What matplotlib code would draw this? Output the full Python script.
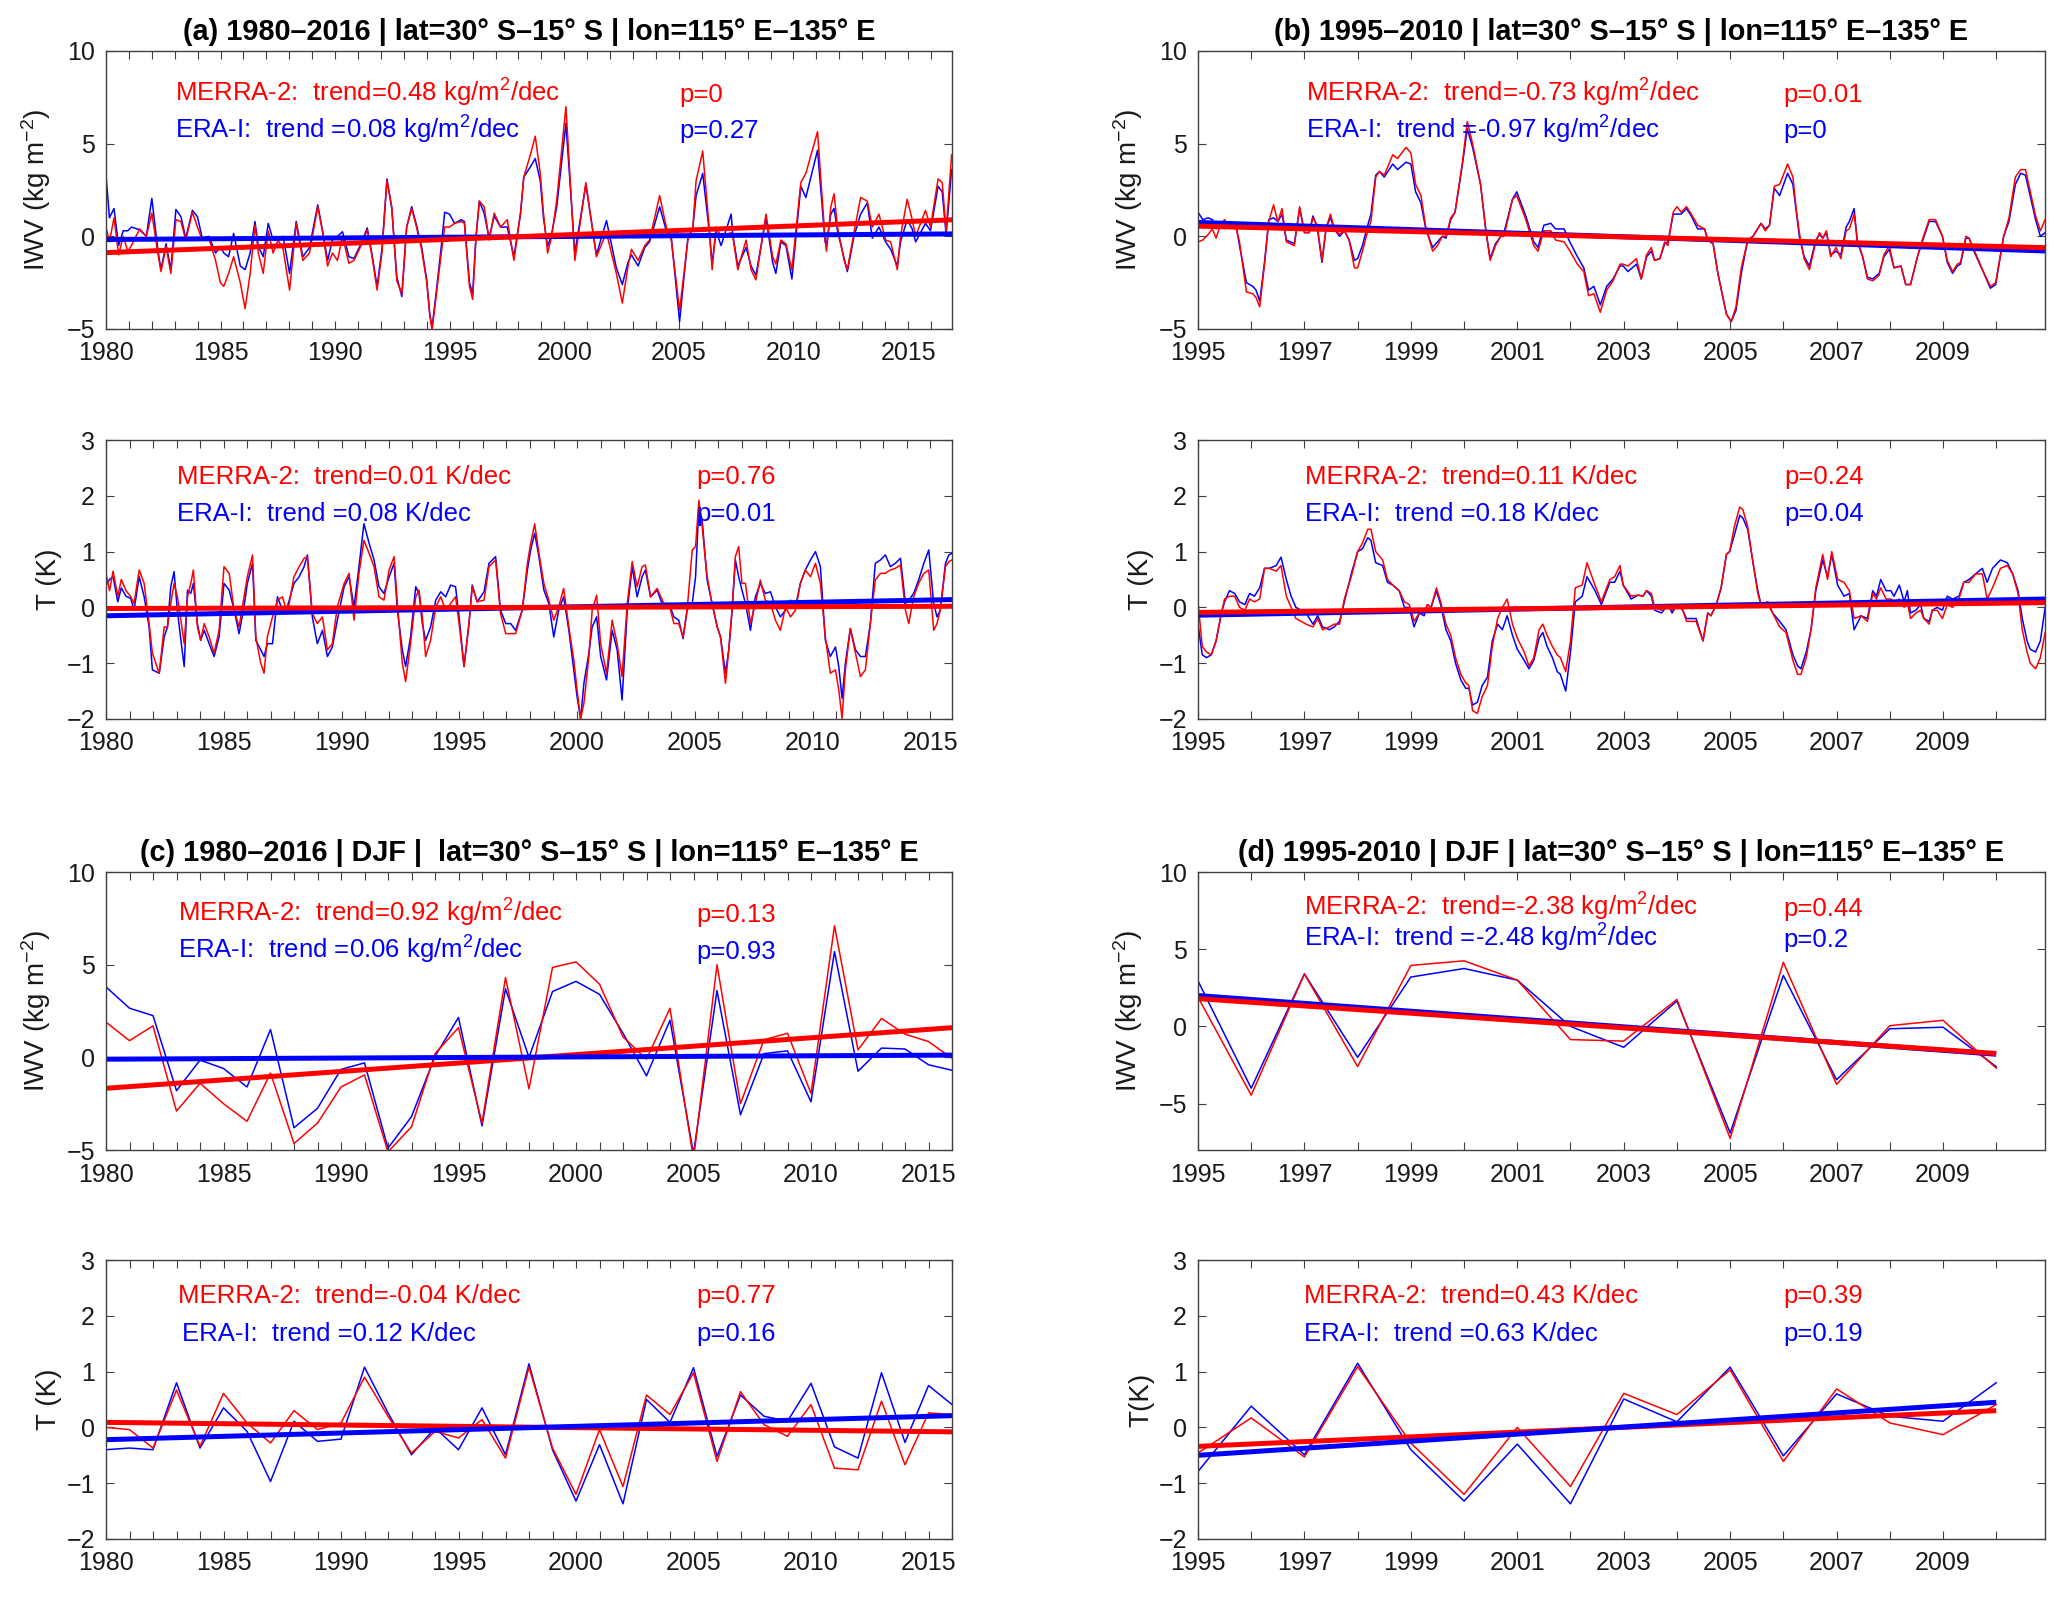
import numpy as np
import matplotlib
matplotlib.use('Agg')
import matplotlib.pyplot as plt

plt.rcParams['font.family'] = ['Liberation Sans', 'DejaVu Sans']
plt.rcParams['mathtext.fontset'] = 'custom'
plt.rcParams['mathtext.rm'] = 'Liberation Sans'
plt.rcParams['mathtext.it'] = 'Liberation Sans:italic'
plt.rcParams['mathtext.bf'] = 'Liberation Sans:bold'

# ---------------- (a) monthly 1980-2016 ----------------
t_a_iwv = [1980.00, 1980.15, 1980.35, 1980.55, 1980.75, 1980.95, 1981.11, 1981.47, 1981.76, 1982.00,
           1982.26, 1982.40, 1982.62, 1982.83, 1983.05, 1983.27, 1983.48, 1983.77, 1983.99, 1984.20,
           1984.49, 1984.78, 1984.99, 1985.14, 1985.35, 1985.57, 1985.86, 1986.07, 1986.29, 1986.50,
           1986.65, 1986.86, 1987.08, 1987.29, 1987.51, 1987.73, 1988.01, 1988.30, 1988.59, 1988.88,
           1989.24, 1989.45, 1989.67, 1989.88, 1990.10, 1990.32, 1990.60, 1990.82, 1991.11, 1991.40,
           1991.61, 1991.83, 1992.04, 1992.26, 1992.47, 1992.69, 1992.91, 1993.12, 1993.34, 1993.55,
           1993.77, 1993.99, 1994.13, 1994.23, 1994.42, 1994.63, 1994.78, 1994.99, 1995.21, 1995.50,
           1995.64, 1995.86, 1996.00, 1996.14, 1996.29, 1996.50, 1996.72, 1996.94, 1997.22, 1997.51,
           1997.80, 1998.09, 1998.23, 1998.52, 1998.73, 1998.95, 1999.09, 1999.27, 1999.45, 1999.67,
           2000.07, 2000.46, 2000.94, 2001.40, 2001.84, 2002.27, 2002.53, 2002.78, 2002.93, 2003.22,
           2003.51, 2003.72, 2004.16, 2004.45, 2004.67, 2005.03, 2005.39, 2005.61, 2005.75, 2006.04,
           2006.33, 2006.45, 2006.62, 2006.84, 2007.28, 2007.35, 2007.57, 2007.93, 2008.15, 2008.36,
           2008.80, 2009.09, 2009.23, 2009.45, 2009.67, 2009.93, 2010.32, 2010.54, 2011.05, 2011.38,
           2011.44, 2011.63, 2011.77, 2011.92, 2012.21, 2012.35, 2012.64, 2012.93, 2013.22, 2013.44,
           2013.73, 2014.02, 2014.24, 2014.53, 2014.67, 2014.96, 2015.18, 2015.33, 2015.76, 2015.98,
           2016.31, 2016.49, 2016.66, 2016.90]
iwv_a_merra = [0.5, -0.3, 1.0, -1.0, 0.0, -0.8, -0.5, 0.4, 0.0, 1.25,
               -0.9, -1.9, -0.55, -2.0, 0.9, 0.8, -0.2, 1.3, 0.5, -0.2,
               -0.1, -1.3, -2.5, -2.7, -2.0, -1.1, -2.5, -3.9, -2.0, 0.6,
               -0.9, -2.0, 0.3, -0.9, -0.2, -0.7, -2.9, 0.7, -1.3, -0.9,
               1.6, 0.25, -1.6, -0.9, -1.3, 0.0, -1.45, -1.3, -0.55, 0.35,
               -1.1, -2.9, -0.9, 3.0, 1.6, -2.4, -3.1, 0.5, 1.5, 0.5,
               -0.7, -2.4, -4.3, -5.05, -3.1, -0.9, 0.5, 0.5, 0.7, 0.8,
               0.7, -2.7, -3.4, -0.2, 1.9, 1.6, -0.2, 1.25, 0.5, 0.9,
               -1.3, 1.25, 3.2, 4.4, 5.4, 3.4, 1.25, -0.9, 0.0, 1.96,
               7.0, -1.3, 2.9, -1.1, 0.2, -2.0, -3.6, -1.6, -0.7, -1.3,
               -0.5, -0.2, 2.2, 0.5, -0.2, -4.0, -0.2, 0.5, 3.0, 4.6,
               0.3, -1.8, 0.5, 0.0, 0.2, 0.0, -1.8, -0.2, -1.8, -2.35,
               1.2, -1.1, -1.5, -0.2, -0.4, -1.8, 2.9, 3.4, 5.65, -0.2,
               -0.8, 1.6, 2.3, 0.5, -1.3, -1.8, 0.2, 2.1, 1.9, 0.5,
               1.2, -0.2, -0.3, -1.8, 0.0, 2.0, 0.9, 0.0, 1.4, 0.5,
               3.1, 2.9, 0.3, 4.4]
iwv_a_era = [3.3, 1.0, 1.5, -0.5, 0.3, 0.3, 0.5, 0.35, 0.0, 2.05,
             -0.7, -1.8, -0.4, -1.8, 1.45, 1.06, -0.1, 1.4, 1.06, -0.1,
             0.0, -0.9, -0.55, -0.9, -1.1, 0.16, -1.6, -1.8, -0.9, 0.8,
             -0.55, -1.1, 0.7, -0.2, -0.2, 0.0, -2.0, 0.8, -1.1, -0.6,
             1.7, 0.3, -1.3, -0.2, 0.0, 0.25, -1.1, -1.2, -0.45, 0.45,
             -1.0, -2.7, -0.7, 3.1, 1.5, -2.2, -3.25, 0.5, 1.6, 0.6,
             -0.55, -2.3, -4.2, -4.9, -2.9, -0.55, 1.3, 1.2, 0.7, 0.9,
             0.8, -2.5, -3.1, -0.1, 1.9, 1.25, -0.1, 1.1, 0.5, 0.5,
             -1.1, 1.25, 3.2, 3.75, 4.2, 3.0, 1.0, -0.55, 0.15, 1.6,
             6.1, -0.9, 2.8, -1.0, 0.85, -1.7, -2.6, -1.4, -1.0, -1.6,
             -0.6, -0.3, 1.6, 0.3, -0.1, -4.6, -0.1, 0.5, 2.2, 3.4,
             0.2, -1.5, 0.3, -0.5, 1.2, 0.1, -1.6, -0.6, -1.6, -2.1,
             1.0, -1.4, -2.0, -0.3, -0.5, -2.3, 2.7, 2.1, 4.65, -0.3,
             -0.4, 1.2, 1.5, 0.3, -1.2, -1.9, 0.0, 1.2, 1.8, -0.1,
             0.5, -0.3, -0.7, -1.6, -0.3, 0.9, 0.4, -0.3, 0.7, 0.3,
             2.7, 2.4, 0.1, 3.6]

t_a_t = [1980.00, 1980.15, 1980.30, 1980.50, 1980.65, 1980.85, 1981.05, 1981.19, 1981.41, 1981.62,
         1981.83, 1981.97, 1982.26, 1982.47, 1982.61, 1982.75, 1982.89, 1983.03, 1983.18, 1983.32,
         1983.46, 1983.60, 1983.71, 1983.88, 1984.02, 1984.17, 1984.38, 1984.59, 1984.80, 1985.01,
         1985.23, 1985.44, 1985.65, 1985.86, 1986.00, 1986.22, 1986.36, 1986.57, 1986.71, 1986.85,
         1987.07, 1987.28, 1987.49, 1987.70, 1987.98, 1988.20, 1988.41, 1988.55, 1988.76, 1988.97,
         1989.19, 1989.40, 1989.61, 1989.82, 1990.11, 1990.32, 1990.53, 1990.74, 1990.95, 1991.17,
         1991.38, 1991.59, 1991.80, 1992.02, 1992.23, 1992.37, 1992.58, 1992.72, 1992.93, 1993.15,
         1993.29, 1993.43, 1993.57, 1993.78, 1994.00, 1994.21, 1994.42, 1994.63, 1994.84, 1994.99,
         1995.20, 1995.41, 1995.55, 1995.76, 1996.05, 1996.26, 1996.40, 1996.54, 1996.75, 1996.97,
         1997.18, 1997.39, 1997.67, 1997.89, 1998.03, 1998.20, 1998.38, 1998.59, 1998.80, 1999.01,
         1999.22, 1999.43, 1999.65, 1999.86, 2000.00, 2000.15, 2000.29, 2000.50, 2000.64, 2000.83,
         2001.00, 2001.25, 2001.49, 2001.70, 2001.91, 2002.13, 2002.34, 2002.55, 2002.76, 2002.90,
         2003.12, 2003.40, 2003.68, 2003.90, 2004.11, 2004.32, 2004.50, 2004.67, 2004.89, 2005.03,
         2005.17, 2005.31, 2005.52, 2005.73, 2005.95, 2006.09, 2006.30, 2006.44, 2006.58, 2006.72,
         2006.86, 2007.00, 2007.15, 2007.36, 2007.57, 2007.78, 2007.99, 2008.21, 2008.42, 2008.63,
         2008.85, 2009.06, 2009.27, 2009.48, 2009.69, 2009.91, 2010.12, 2010.33, 2010.54, 2010.75,
         2010.97, 2011.11, 2011.25, 2011.39, 2011.60, 2011.82, 2012.03, 2012.24, 2012.45, 2012.66,
         2012.88, 2013.09, 2013.30, 2013.51, 2013.73, 2013.94, 2014.08, 2014.29, 2014.50, 2014.72,
         2014.93, 2015.14, 2015.28, 2015.42, 2015.64, 2015.78, 2015.92]
t_a_merra = [0.6, 0.3, 0.65, 0.2, 0.5, 0.3, 0.19, 0.07, 0.67, 0.43,
             -0.29, -0.82, -1.18, -0.35, -0.35, 0.07, 0.43, 0.19, -0.23, -0.65,
             0.19, 0.43, 0.67, -0.35, -0.59, -0.29, -0.53, -0.82, -0.41, 0.73,
             0.61, -0.05, -0.35, 0.19, 0.55, 0.94, -0.53, -1.0, -1.18, -0.53,
             -0.17, 0.13, 0.19, -0.11, 0.55, 0.73, 0.88, 0.91, -0.11, -0.29,
             -0.17, -0.76, -0.65, 0.01, 0.43, 0.61, -0.23, 0.61, 1.2, 0.97,
             0.73, 0.19, 0.13, 0.67, 0.91, 0.07, -1.0, -1.33, -0.65, 0.19,
             0.31, -0.17, -0.88, -0.59, 0.01, 0.19, -0.05, 0.07, 0.19, -0.29,
             -1.06, -0.29, 0.37, 0.1, 0.13, 0.73, 0.79, 0.85, -0.11, -0.47,
             -0.47, -0.47, -0.05, 0.79, 1.15, 1.5, 0.97, 0.43, 0.13, -0.23,
             0.01, 0.34, -0.35, -0.94, -1.48, -2.0, -1.72, -0.88, -0.05, 0.22,
             -0.65, -1.18, -0.23, -0.65, -1.24, 0.07, 0.82, 0.37, 0.73, 0.76,
             0.19, 0.34, 0.07, 0.07, -0.29, -0.29, -0.53, -0.05, 1.03, 1.09,
             1.92, 1.45, 0.55, 0.07, -0.35, -0.53, -1.36, -0.76, -0.05, 0.91,
             1.09, 0.43, 0.43, -0.29, 0.07, 0.49, 0.13, 0.07, -0.23, -0.41,
             0.01, -0.17, -0.05, 0.43, 0.67, 0.55, 0.79, 0.43, -0.53, -1.18,
             -1.12, -1.48, -1.99, -1.12, -0.38, -0.82, -1.24, -1.12, -0.29, 0.49,
             0.61, 0.61, 0.67, 0.7, 0.76, -0.05, -0.29, 0.19, 0.43, 0.61,
             0.67, -0.41, -0.29, -0.05, 0.73, 0.82, 0.85]
t_a_era = [0.4, 0.5, 0.55, 0.1, 0.35, 0.2, 0.16, -0.05, 0.55, 0.19,
           -0.35, -1.12, -1.18, -0.53, -0.35, 0.37, 0.64, -0.05, -0.59, -1.06,
           0.31, 0.25, 0.43, -0.29, -0.59, -0.41, -0.65, -0.88, -0.53, 0.43,
           0.31, -0.05, -0.47, 0.01, 0.43, 0.79, -0.59, -0.76, -0.88, -0.65,
           -0.65, 0.19, -0.05, 0.01, 0.43, 0.55, 0.73, 0.94, -0.17, -0.65,
           -0.41, -0.88, -0.71, -0.23, 0.37, 0.55, 0.01, 0.73, 1.5, 1.15,
           0.85, 0.37, 0.25, 0.55, 0.79, -0.05, -0.76, -1.06, -0.53, 0.37,
           0.25, -0.29, -0.59, -0.35, 0.13, 0.28, 0.19, 0.4, 0.37, -0.17,
           -1.06, -0.29, 0.4, 0.1, 0.28, 0.79, 0.85, 0.91, -0.05, -0.29,
           -0.29, -0.41, -0.05, 0.67, 1.03, 1.33, 0.91, 0.31, 0.07, -0.53,
           -0.05, 0.19, -0.41, -1.12, -1.6, -2.0, -1.36, -0.82, -0.35, -0.17,
           -0.88, -1.3, -0.41, -0.76, -1.66, -0.05, 0.73, 0.19, 0.55, 0.67,
           0.19, 0.31, -0.02, 0.07, -0.17, -0.23, -0.56, -0.05, 0.07, 0.55,
           1.8, 1.57, 0.49, 0.07, -0.35, -0.53, -1.18, -0.76, -0.05, 0.85,
           0.55, 0.31, 0.07, -0.41, 0.19, 0.43, 0.25, 0.28, 0.01, -0.17,
           -0.05, 0.13, 0.01, 0.43, 0.67, 0.85, 1.0, 0.73, -0.59, -0.88,
           -0.71, -1.06, -1.63, -1.0, -0.38, -0.76, -0.88, -0.88, -0.29, 0.79,
           0.85, 0.94, 0.73, 0.79, 0.88, 0.07, 0.13, 0.25, 0.49, 0.79,
           1.03, 0.07, -0.17, -0.05, 0.79, 0.94, 0.97]

# ---------------- (b) monthly 1995-2010 ----------------
t_b_iwv = [1995.00, 1995.09, 1995.19, 1995.27, 1995.34, 1995.42, 1995.50, 1995.59, 1995.72, 1995.78,
           1995.91, 1996.03, 1996.09, 1996.16, 1996.25, 1996.33, 1996.42, 1996.50, 1996.58, 1996.66,
           1996.81, 1996.91, 1997.00, 1997.09, 1997.16, 1997.24, 1997.33, 1997.41, 1997.49, 1997.56,
           1997.66, 1997.75, 1997.84, 1997.94, 1998.00, 1998.09, 1998.19, 1998.25, 1998.34, 1998.41,
           1998.50, 1998.66, 1998.75, 1998.91, 1999.00, 1999.09, 1999.19, 1999.28, 1999.41, 1999.50,
           1999.59, 1999.66, 1999.75, 1999.83, 1999.97, 2000.06, 2000.16, 2000.31, 2000.41, 2000.49,
           2000.59, 2000.69, 2000.75, 2000.91, 2000.99, 2001.16, 2001.31, 2001.39, 2001.50, 2001.63,
           2001.72, 2001.88, 2001.97, 2002.13, 2002.25, 2002.34, 2002.44, 2002.56, 2002.68, 2002.80,
           2002.93, 2002.99, 2003.08, 2003.24, 2003.33, 2003.43, 2003.52, 2003.58, 2003.68, 2003.77,
           2003.83, 2003.93, 2004.00, 2004.08, 2004.18, 2004.27, 2004.39, 2004.52, 2004.58, 2004.68,
           2004.77, 2004.93, 2005.02, 2005.11, 2005.21, 2005.33, 2005.43, 2005.58, 2005.66, 2005.74,
           2005.83, 2005.93, 2006.08, 2006.18, 2006.24, 2006.30, 2006.39, 2006.49, 2006.61, 2006.68,
           2006.74, 2006.81, 2006.89, 2006.99, 2007.08, 2007.18, 2007.24, 2007.33, 2007.39, 2007.49,
           2007.58, 2007.68, 2007.80, 2007.89, 2007.99, 2008.08, 2008.21, 2008.30, 2008.39, 2008.52,
           2008.61, 2008.74, 2008.86, 2008.99, 2009.08, 2009.18, 2009.27, 2009.33, 2009.43, 2009.49,
           2009.58, 2009.74, 2009.89, 2009.99, 2010.14, 2010.24, 2010.36, 2010.46, 2010.55, 2010.74,
           2010.83, 2010.92]
iwv_b_merra = [-0.3, -0.2, 0.1, 0.4, -0.1, 0.6, 0.9, 0.5, 0.4, -0.3,
               -3.0, -3.1, -3.3, -3.8, -1.5, 0.8, 1.7, 0.8, 1.5, -0.3,
               -0.5, 1.6, 0.2, 0.2, 1.0, 0.6, -1.3, 0.5, 1.2, 0.4,
               0.1, 0.3, -0.2, -1.7, -1.7, -0.8, 0.3, 0.8, 3.2, 3.5,
               3.3, 4.4, 4.2, 4.8, 4.5, 2.8, 2.2, 0.5, -0.8, -0.5,
               0.0, 0.0, 1.0, 1.3, 4.0, 6.2, 5.0, 2.8, 0.3, -1.3,
               -0.5, 0.0, 0.0, 2.0, 2.2, 0.9, -0.5, -0.8, 0.3, 0.3,
               -0.2, -0.3, -0.7, -1.5, -1.9, -3.2, -3.1, -4.1, -2.9, -2.4,
               -1.5, -1.5, -1.6, -1.2, -2.3, -1.0, -0.6, -1.3, -1.2, -0.3,
               -0.5, 1.3, 1.6, 1.3, 1.6, 1.2, 0.6, 0.4, -0.2, -0.4,
               -2.0, -4.2, -4.6, -3.8, -1.7, -0.2, 0.0, 0.7, 0.3, 0.6,
               2.7, 2.8, 3.9, 3.2, 1.5, 0.2, -1.2, -1.8, -0.3, 0.2,
               -0.1, 0.3, -1.1, -0.6, -1.2, 0.3, 0.4, 1.2, -0.2, -1.1,
               -2.3, -2.4, -2.1, -1.0, -0.5, -1.7, -1.6, -2.6, -2.6, -1.1,
               -0.2, 0.9, 0.9, 0.0, -1.3, -1.9, -1.5, -1.4, 0.0, -0.1,
               -0.7, -1.8, -2.7, -2.5, 0.0, 1.0, 3.2, 3.6, 3.6, 1.1,
               0.3, 0.9]
iwv_b_era = [1.3, 0.9, 1.0, 0.9, 0.4, 0.7, 0.85, 0.6, 0.5, -0.5,
             -2.5, -2.7, -2.9, -3.5, -1.4, 0.9, 1.0, 0.8, 1.2, -0.2,
             -0.4, 1.5, 0.2, 0.2, 1.1, 0.5, -1.4, 0.5, 1.0, 0.4,
             0.0, 0.3, -0.2, -1.3, -1.2, -0.5, 0.6, 1.2, 3.3, 3.5,
             3.2, 3.9, 3.6, 4.0, 3.9, 2.4, 1.8, 0.4, -0.6, -0.3,
             0.0, -0.1, 0.9, 1.3, 3.9, 5.8, 4.8, 2.8, 0.3, -1.2,
             -0.4, 0.0, 0.2, 2.0, 2.4, 1.1, -0.3, -0.6, 0.6, 0.7,
             0.4, 0.4, -0.2, -1.1, -1.7, -2.9, -2.7, -3.7, -2.7, -2.3,
             -1.6, -1.6, -1.9, -1.5, -2.3, -1.1, -0.8, -1.3, -1.2, -0.4,
             -0.3, 1.2, 1.2, 1.2, 1.5, 1.1, 0.4, 0.4, -0.2, -0.4,
             -2.0, -4.2, -4.6, -4.0, -2.0, -0.2, 0.0, 0.7, 0.4, 0.6,
             2.6, 2.2, 3.4, 2.8, 1.4, 0.0, -1.1, -1.6, -0.2, 0.1,
             -0.1, 0.2, -1.0, -0.8, -1.0, 0.5, 0.8, 1.5, -0.3, -1.1,
             -2.2, -2.3, -2.0, -1.1, -0.7, -1.7, -1.6, -2.6, -2.6, -1.1,
             -0.3, 0.8, 0.8, 0.0, -1.4, -2.0, -1.6, -1.5, -0.1, -0.1,
             -0.8, -1.8, -2.8, -2.6, 0.0, 0.8, 2.8, 3.4, 3.3, 0.9,
             0.0, 0.2]

t_b_t = [1995.00, 1995.08, 1995.16, 1995.25, 1995.34, 1995.44, 1995.50, 1995.59, 1995.69, 1995.78,
         1995.88, 1995.97, 1996.06, 1996.16, 1996.25, 1996.34, 1996.47, 1996.56, 1996.66, 1996.75,
         1996.84, 1996.94, 1997.03, 1997.16, 1997.25, 1997.34, 1997.47, 1997.56, 1997.66, 1997.75,
         1997.88, 1998.00, 1998.09, 1998.19, 1998.25, 1998.34, 1998.47, 1998.56, 1998.66, 1998.78,
         1998.88, 1998.97, 1999.06, 1999.16, 1999.25, 1999.31, 1999.38, 1999.48, 1999.56, 1999.66,
         1999.75, 1999.84, 1999.94, 2000.03, 2000.09, 2000.16, 2000.25, 2000.34, 2000.44, 2000.53,
         2000.63, 2000.72, 2000.81, 2000.91, 2001.00, 2001.13, 2001.22, 2001.31, 2001.41, 2001.48,
         2001.56, 2001.66, 2001.75, 2001.81, 2001.91, 2002.00, 2002.09, 2002.22, 2002.31, 2002.46,
         2002.58, 2002.74, 2002.83, 2002.93, 2002.99, 2003.14, 2003.27, 2003.36, 2003.43, 2003.52,
         2003.58, 2003.71, 2003.83, 2003.91, 2004.00, 2004.11, 2004.18, 2004.27, 2004.36, 2004.49,
         2004.58, 2004.64, 2004.74, 2004.83, 2004.93, 2004.99, 2005.08, 2005.18, 2005.24, 2005.33,
         2005.43, 2005.52, 2005.58, 2005.71, 2005.80, 2005.93, 2006.05, 2006.18, 2006.27, 2006.33,
         2006.43, 2006.52, 2006.61, 2006.74, 2006.83, 2006.91, 2007.02, 2007.14, 2007.24, 2007.33,
         2007.46, 2007.58, 2007.68, 2007.75, 2007.83, 2007.93, 2008.02, 2008.08, 2008.18, 2008.27,
         2008.33, 2008.39, 2008.49, 2008.58, 2008.64, 2008.74, 2008.80, 2008.89, 2008.99, 2009.08,
         2009.18, 2009.30, 2009.39, 2009.49, 2009.61, 2009.74, 2009.83, 2009.93, 2010.08, 2010.21,
         2010.31, 2010.41, 2010.49, 2010.58, 2010.64, 2010.74, 2010.83, 2010.92]
t_b_merra = [0.1, -0.7, -0.8, -0.85, -0.6, -0.1, 0.15, 0.2, 0.2, 0.0,
             -0.05, 0.15, 0.1, 0.15, 0.7, 0.7, 0.65, 0.75, 0.2, 0.0,
             -0.2, -0.25, -0.3, -0.35, -0.2, -0.4, -0.35, -0.3, -0.3, 0.15,
             0.55, 1.0, 1.15, 1.4, 1.4, 1.0, 0.85, 0.5, 0.4, 0.3,
             0.1, 0.05, -0.25, -0.1, -0.1, 0.05, 0.0, 0.35, 0.1, -0.3,
             -0.5, -0.9, -1.2, -1.35, -1.4, -1.85, -1.9, -1.6, -1.4, -0.7,
             -0.2, 0.0, 0.15, -0.3, -0.55, -0.8, -1.05, -0.9, -0.4, -0.3,
             -0.5, -0.7, -0.85, -0.9, -1.15, -0.6, 0.35, 0.4, 0.8, 0.4,
             0.1, 0.5, 0.55, 0.75, 0.4, 0.2, 0.22, 0.2, 0.3, 0.25,
             0.0, -0.05, 0.05, -0.05, 0.05, -0.05, -0.25, -0.25, -0.25, -0.6,
             -0.1, -0.15, 0.05, 0.35, 0.95, 1.0, 1.45, 1.8, 1.75, 1.45,
             0.8, 0.25, 0.05, 0.05, -0.1, -0.35, -0.45, -0.95, -1.2, -1.2,
             -0.9, -0.4, 0.35, 0.95, 0.5, 1.0, 0.5, 0.45, 0.3, -0.2,
             -0.15, -0.25, 0.25, 0.15, 0.35, 0.15, 0.15, 0.1, 0.15, 0.0,
             0.1, -0.2, -0.1, -0.05, -0.2, -0.3, -0.05, -0.05, -0.2, 0.05,
             0.0, 0.15, 0.45, 0.45, 0.6, 0.6, 0.15, 0.35, 0.7, 0.75,
             0.6, 0.25, -0.4, -0.8, -1.0, -1.1, -0.9, -0.45]
t_b_era = [-0.3, -0.85, -0.9, -0.85, -0.6, -0.1, 0.1, 0.3, 0.25, 0.1,
           0.05, 0.25, 0.2, 0.35, 0.7, 0.7, 0.75, 0.9, 0.5, 0.2,
           0.0, -0.05, -0.1, -0.3, -0.15, -0.35, -0.4, -0.35, -0.25, 0.1,
           0.6, 1.0, 1.05, 1.25, 1.2, 0.8, 0.75, 0.45, 0.4, 0.3,
           0.0, 0.0, -0.35, -0.1, -0.15, 0.05, 0.0, 0.3, 0.05, -0.4,
           -0.6, -1.0, -1.3, -1.45, -1.45, -1.75, -1.7, -1.4, -1.25, -0.6,
           -0.3, -0.4, -0.15, -0.5, -0.75, -0.95, -1.1, -0.95, -0.55, -0.45,
           -0.7, -0.9, -1.15, -1.2, -1.5, -0.8, 0.1, 0.2, 0.55, 0.3,
           0.05, 0.45, 0.45, 0.65, 0.4, 0.15, 0.22, 0.2, 0.3, 0.2,
           -0.05, -0.1, 0.05, -0.1, 0.05, -0.05, -0.2, -0.2, -0.2, -0.6,
           -0.1, -0.15, 0.05, 0.35, 0.95, 1.0, 1.3, 1.65, 1.6, 1.4,
           0.8, 0.3, 0.05, 0.1, -0.1, -0.25, -0.4, -0.85, -1.05, -1.1,
           -0.8, -0.4, 0.3, 0.85, 0.55, 0.95, 0.4, 0.2, 0.25, -0.4,
           -0.15, -0.2, 0.3, 0.2, 0.5, 0.3, 0.3, 0.2, 0.4, 0.1,
           0.3, -0.1, -0.05, 0.05, -0.2, -0.25, -0.05, 0.0, -0.05, 0.2,
           0.15, 0.2, 0.45, 0.5, 0.6, 0.7, 0.45, 0.7, 0.85, 0.8,
           0.6, 0.3, -0.2, -0.6, -0.75, -0.8, -0.6, 0.0]

# ---------------- (c) DJF 1980-2016 ----------------
yr_c = list(range(1980, 2017))
iwv_c_merra = [1.9, 0.9, 1.7, -2.9, -1.4, -2.5, -3.45, -0.85, -4.65, -3.55,
               -1.6, -0.95, -5.1, -3.75, 0.2, 1.6, -3.55, 4.3, -1.7, 4.85,
               5.15, 3.95, 1.1, -0.1, 2.65, -5.5, 5.0, -2.5, 0.95, 1.3,
               -1.95, 7.1, 0.4, 2.1, 1.25, 0.85, -0.05]
iwv_c_era = [3.8, 2.65, 2.25, -1.8, -0.15, -0.6, -1.6, 1.5, -3.8, -2.75,
             -0.65, -0.3, -4.9, -3.2, 0.05, 2.15, -3.7, 3.7, 0.0, 3.55,
             4.1, 3.4, 1.3, -1.0, 2.0, -5.2, 3.6, -3.1, 0.2, 0.35,
             -2.4, 5.7, -0.75, 0.5, 0.45, -0.4, -0.7]
t_c_merra = [0.0, -0.04, -0.37, 0.67, -0.34, 0.61, 0.08, -0.28, 0.3, -0.04,
             0.08, 0.9, 0.2, -0.46, -0.07, -0.19, 0.14, -0.55, 1.08, -0.37,
             -1.2, -0.04, -1.06, 0.58, 0.23, 0.98, -0.61, 0.64, 0.05, -0.16,
             0.41, -0.73, -0.76, 0.47, -0.67, 0.26, 0.23]
t_c_era = [-0.4, -0.37, -0.4, 0.8, -0.37, 0.35, -0.07, -0.97, 0.11, -0.25,
           -0.21, 1.08, 0.26, -0.49, -0.01, -0.4, 0.35, -0.49, 1.14, -0.4,
           -1.32, -0.31, -1.37, 0.5, 0.09, 1.07, -0.52, 0.58, 0.2, 0.11,
           0.79, -0.35, -0.55, 0.98, -0.27, 0.75, 0.41]

# ---------------- (d) DJF 1995-2010 ----------------
yr_d = list(range(1995, 2011))
iwv_d_merra = [1.9, -4.45, 3.4, -2.6, 3.95, 4.25, 3.0, -0.85, -0.95, 1.75,
               -7.25, 4.15, -3.75, 0.05, 0.4, -2.7]
iwv_d_era = [2.95, -4.0, 3.4, -2.0, 3.2, 3.75, 3.0, 0.0, -1.35, 1.65,
             -6.9, 3.3, -3.45, -0.15, -0.05, -2.6]
t_d_merra = [-0.46, 0.17, -0.53, 1.09, -0.28, -1.2, 0.0, -1.06, 0.61, 0.23,
             1.03, -0.61, 0.69, 0.08, -0.13, 0.41]
t_d_era = [-0.79, 0.38, -0.49, 1.15, -0.4, -1.32, -0.3, -1.37, 0.51, 0.1,
           1.08, -0.51, 0.6, 0.2, 0.11, 0.8]

# linear trend lines, start / end values
trend_a_iwv = ([-0.88, 0.89], [-0.17, 0.13])
trend_a_t = ([-0.02, 0.02], [-0.15, 0.14])
trend_b_iwv = ([0.55, -0.61], [0.75, -0.79])
trend_b_t = ([-0.09, 0.085], [-0.14, 0.15])
trend_c_iwv = ([-1.67, 1.6], [-0.1, 0.12])
trend_c_t = ([0.09, -0.08], [-0.22, 0.21])
trend_d_iwv = ([1.8, -1.75], [2.0, -1.8])
trend_d_t = ([-0.34, 0.3], [-0.5, 0.45])

# text annotations: (merra trend, era trend, merra p, era p)
stats_a_iwv = ('0.48', '0.08', 'p=0', 'p=0.27')
stats_a_t = ('0.01', '0.08', 'p=0.76', 'p=0.01')
stats_b_iwv = ('-0.73', '-0.97', 'p=0.01', 'p=0')
stats_b_t = ('0.11', '0.18', 'p=0.24', 'p=0.04')
stats_c_iwv = ('0.92', '0.06', 'p=0.13', 'p=0.93')
stats_c_t = ('-0.04', '0.12', 'p=0.77', 'p=0.16')
stats_d_iwv = ('-2.38', '-2.48', 'p=0.44', 'p=0.2')
stats_d_t = ('0.43', '0.63', 'p=0.39', 'p=0.19')

titles = ['(a) 1980–2016 | lat=30° S–15° S | lon=115° E–135° E',
          '(b) 1995–2010 | lat=30° S–15° S | lon=115° E–135° E',
          '(c) 1980–2016 | DJF |  lat=30° S–15° S | lon=115° E–135° E',
          '(d) 1995-2010 | DJF | lat=30° S–15° S | lon=115° E–135° E']

RED = (1, 0, 0)
BLUE = (0, 0, 1)
FRAME = '#404040'


def setup_axes(ax, xlim, ylim, yticks, years, step, ylabel, is_iwv):
    ax.set_xlim(xlim)
    ax.set_ylim(ylim)
    ax.set_xticks(years)
    ax.set_xticklabels([str(y) if (y - years[0]) % step == 0 else '' for y in years])
    ax.set_yticks(yticks)
    ax.tick_params(direction='in', top=True, right=True, length=6, width=0.8,
                   color=FRAME, labelsize=18, labelcolor='#1a1a1a')
    ax.tick_params(axis='x', pad=9)
    ax.tick_params(axis='y', pad=8)
    for s in ax.spines.values():
        s.set_color(FRAME)
        s.set_linewidth(1.0)
    ax.set_ylabel(ylabel, fontsize=20, color='#1a1a1a')
    ax.yaxis.set_label_coords(-0.063 if is_iwv else -0.052, 0.5)


def draw(ax, x, merra, era, tx, trend, red_on_top=True):
    ax.plot(x, era, color=BLUE, lw=1.1)
    ax.plot(x, merra, color=RED, lw=1.1)
    if red_on_top:
        ax.plot(tx, trend[1], color=BLUE, lw=3.6, solid_capstyle='butt')
        ax.plot(tx, trend[0], color=RED, lw=3.6, solid_capstyle='butt')
    else:
        ax.plot(tx, trend[0], color=RED, lw=3.6, solid_capstyle='butt')
        ax.plot(tx, trend[1], color=BLUE, lw=3.6, solid_capstyle='butt')


def annotate(ax, stats, unit, x0, x0_era, xp, y_m, y_e):
    m_txt = 'MERRA-2:  trend=' + stats[0] + ' ' + unit
    e_txt = 'ERA-I:  trend =' + stats[1] + ' ' + unit
    ax.text(x0, y_m, m_txt, color=RED, fontsize=18.5, va='baseline')
    ax.text(x0_era, y_e, e_txt, color=BLUE, fontsize=18.5, va='baseline')
    ax.text(xp, y_m, stats[2], color=RED, fontsize=18.5, va='baseline')
    ax.text(xp, y_e, stats[3], color=BLUE, fontsize=18.5, va='baseline')


IWV_UNIT = 'kg/m$^2$/dec'
T_UNIT = 'K/dec'
IWV_LABEL = 'IWV (kg m$^{-2}$)'
TITLE_SIZE = 20.8

fig = plt.figure(figsize=(20.67, 15.98), dpi=100)
W, H = 2067.0, 1598.0


def make_ax(left, right, top, bottom):
    return fig.add_axes([left / W, 1 - bottom / H, (right - left) / W, (bottom - top) / H])


years_a = list(range(1980, 2017))
years_b = list(range(1995, 2011))

# (a) IWV
ax = make_ax(106, 952, 51, 329)
draw(ax, t_a_iwv, iwv_a_merra, iwv_a_era, [1980, 2016.917], trend_a_iwv)
setup_axes(ax, (1980, 2016.917), (-5, 10), [-5, 0, 5, 10], years_a, 5, IWV_LABEL, True)
annotate(ax, stats_a_iwv, IWV_UNIT, 1983.0, 1983.0, 2005.0, 7.26, 5.29)
ax.set_title(titles[0], fontsize=TITLE_SIZE, fontweight='bold', pad=8)

# (a) T
ax = make_ax(106, 952, 440, 719)
draw(ax, t_a_t, t_a_merra, t_a_era, [1980, 2015.917], trend_a_t)
setup_axes(ax, (1980, 2015.917), (-2, 3), [-2, -1, 0, 1, 2, 3], years_a[:-1], 5, 'T (K)', False)
annotate(ax, stats_a_t, T_UNIT, 1983.0, 1983.0, 2005.05, 2.22, 1.54)

# (b) IWV
ax = make_ax(1198, 2045, 51, 329)
draw(ax, t_b_iwv, iwv_b_merra, iwv_b_era, [1995, 2010.917], trend_b_iwv)
setup_axes(ax, (1995, 2010.917), (-5, 10), [-5, 0, 5, 10], years_b, 2, IWV_LABEL, True)
annotate(ax, stats_b_iwv, IWV_UNIT, 1997.03, 1997.03, 2006.0, 7.27, 5.3)
ax.set_title(titles[1], fontsize=TITLE_SIZE, fontweight='bold', pad=8)

# (b) T
ax = make_ax(1198, 2045, 440, 719)
draw(ax, t_b_t, t_b_merra, t_b_era, [1995, 2010.917], trend_b_t)
setup_axes(ax, (1995, 2010.917), (-2, 3), [-2, -1, 0, 1, 2, 3], years_b, 2, 'T (K)', False)
annotate(ax, stats_b_t, T_UNIT, 1997.01, 1997.01, 2006.02, 2.22, 1.54)

# (c) IWV, DJF
ax = make_ax(106, 952, 872, 1150)
draw(ax, yr_c, iwv_c_merra, iwv_c_era, [1980, 2016], trend_c_iwv, red_on_top=False)
setup_axes(ax, (1980, 2016), (-5, 10), [-5, 0, 5, 10], years_a, 5, IWV_LABEL, True)
annotate(ax, stats_c_iwv, IWV_UNIT, 1983.05, 1983.05, 2005.1, 7.31, 5.33)
ax.set_title(titles[2], fontsize=TITLE_SIZE, fontweight='bold', pad=8)

# (c) T, DJF
ax = make_ax(106, 952, 1260, 1539)
draw(ax, yr_c, t_c_merra, t_c_era, [1980, 2016], trend_c_t, red_on_top=False)
setup_axes(ax, (1980, 2016), (-2, 3), [-2, -1, 0, 1, 2, 3], years_a, 5, 'T (K)', False)
annotate(ax, stats_c_t, T_UNIT, 1983.06, 1983.24, 2005.1, 2.23, 1.54)

# (d) IWV, DJF
ax = make_ax(1198, 2045, 872, 1150)
draw(ax, yr_d, iwv_d_merra, iwv_d_era, [1995, 2010], trend_d_iwv)
setup_axes(ax, (1995, 2010.917), (-8, 10), [-5, 0, 5, 10], years_b, 2, IWV_LABEL, True)
annotate(ax, stats_d_iwv, IWV_UNIT, 1997.0, 1997.0, 2006.0, 7.15, 5.15)
ax.set_title(titles[3], fontsize=TITLE_SIZE, fontweight='bold', pad=8)

# (d) T, DJF
ax = make_ax(1198, 2045, 1260, 1539)
draw(ax, yr_d, t_d_merra, t_d_era, [1995, 2010], trend_d_t, red_on_top=False)
setup_axes(ax, (1995, 2010.917), (-2, 3), [-2, -1, 0, 1, 2, 3], years_b, 2, 'T(K)', False)
annotate(ax, stats_d_t, T_UNIT, 1997.0, 1997.0, 2006.0, 2.23, 1.54)

fig.savefig('out.png', dpi=100, facecolor='white')
